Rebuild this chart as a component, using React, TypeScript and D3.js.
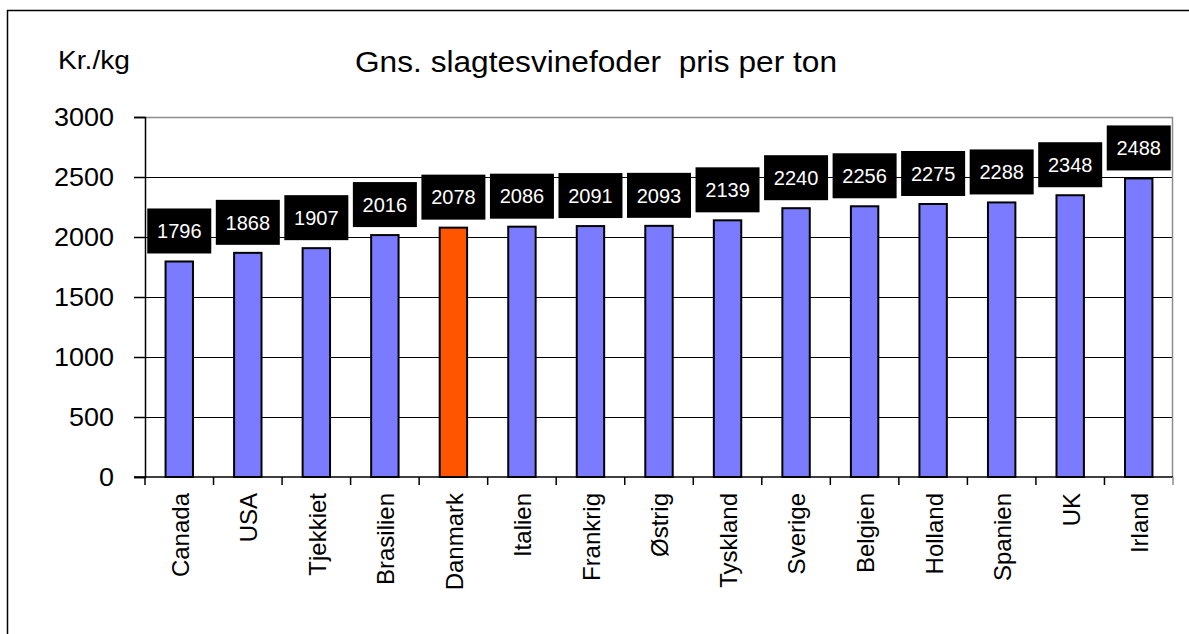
import React, { useEffect, useRef } from 'react';
import * as d3 from 'd3';

const lande = ['Canada', 'USA', 'Tjekkiet', 'Brasilien', 'Danmark', 'Italien', 'Frankrig', 'Østrig', 'Tyskland', 'Sverige', 'Belgien', 'Holland', 'Spanien', 'UK', 'Irland'];
const priser = [1796, 1868, 1907, 2016, 2078, 2086, 2091, 2093, 2139, 2240, 2256, 2275, 2288, 2348, 2488];
const yTicks = [0, 500, 1000, 1500, 2000, 2500, 3000];
const fremhaevet = 'Danmark';

const FONT = "'Liberation Sans', Arial, sans-serif";

function App() {
  const canvas = useRef<SVGSVGElement>(null);

  useEffect(() => {
    const width = 1189;
    const height = 634;
    const margin = { top: 117, left: 145, bottom: 157, right: 16 };
    const iwidth = width - margin.left - margin.right;
    const iheight = height - margin.top - margin.bottom;

    const svg = d3.select(canvas.current).attr('width', width).attr('height', height);
    svg.selectAll('*').remove();

    // ydre ramme (kun top + venstre ses)
    svg.append('path')
      .attr('d', `M7.5,${height} V10.5 H${width}`)
      .attr('fill', 'none')
      .attr('stroke', '#000')
      .attr('stroke-width', 1.5);

    svg.append('text')
      .attr('x', 58).attr('y', 69)
      .attr('font-family', FONT).attr('font-size', 25)
      .attr('textLength', 72).attr('lengthAdjust', 'spacingAndGlyphs')
      .text('Kr./kg');

    svg.append('text')
      .attr('x', 355).attr('y', 72)
      .attr('font-family', FONT).attr('font-size', 30)
      .attr('textLength', 482).attr('lengthAdjust', 'spacingAndGlyphs')
      .style('white-space', 'pre')
      .text('Gns. slagtesvinefoder  pris per ton');

    const g = svg.append('g').attr('transform', `translate(${margin.left},${margin.top})`);

    const x = d3.scaleBand().domain(lande).range([0, iwidth]).paddingInner(0.6).paddingOuter(0.3);
    const xb = d3.scaleBand().domain(lande).range([0, iwidth]);
    const y = d3.scaleLinear().domain([0, 3000]).range([iheight, 0]);

    // gitter
    g.selectAll('line.grid')
      .data(yTicks.filter(d => d > 0 && d < 3000))
      .enter().append('line')
      .attr('class', 'grid')
      .attr('x1', 0).attr('x2', iwidth)
      .attr('y1', d => Math.round(y(d)) + 0.5).attr('y2', d => Math.round(y(d)) + 0.5)
      .attr('stroke', '#000').attr('stroke-width', 1);

    // plotområdets top/højre kant
    g.append('path')
      .attr('d', `M0,0.5 H${iwidth - 0.5} V${iheight}`)
      .attr('fill', 'none')
      .attr('stroke', '#8c8c8c')
      .attr('stroke-width', 1.5);

    // søjler
    g.selectAll('rect.bar')
      .data(priser)
      .enter().append('rect')
      .attr('class', 'bar')
      .attr('x', (d, i) => x(lande[i])!)
      .attr('y', d => y(d))
      .attr('width', x.bandwidth())
      .attr('height', d => iheight - y(d))
      .attr('fill', (d, i) => lande[i] === fremhaevet ? '#ff5500' : '#7b7bff')
      .attr('stroke', '#000')
      .attr('stroke-width', 2);

    // værdi-etiketter
    const boxW = 64;
    const boxH = 45;
    const lbl = g.selectAll('g.lbl')
      .data(priser)
      .enter().append('g')
      .attr('class', 'lbl')
      .attr('transform', (d, i) => `translate(${x(lande[i])! + x.bandwidth() / 2},${y(d) - 8})`);
    lbl.append('rect')
      .attr('x', -boxW / 2).attr('y', -boxH)
      .attr('width', boxW).attr('height', boxH)
      .attr('fill', '#000');
    lbl.append('text')
      .attr('y', -boxH / 2)
      .attr('dy', '0.36em')
      .attr('text-anchor', 'middle')
      .attr('fill', '#fff')
      .attr('font-family', FONT).attr('font-size', 20)
      .text(d => d);

    // y-akse
    const yAxis = g.append('g')
      .call(d3.axisLeft(y).tickValues(yTicks).tickSize(11).tickPadding(20).tickFormat(d3.format('d')));
    yAxis.select('.domain').attr('stroke', '#000').attr('stroke-width', 1.5);
    yAxis.selectAll('.tick line').attr('stroke', '#000').attr('stroke-width', 1.5);
    yAxis.selectAll('.tick text')
      .attr('font-family', FONT).attr('font-size', 26).attr('fill', '#000')
      .attr('textLength', 60).attr('lengthAdjust', 'spacingAndGlyphs');
    yAxis.selectAll('.tick text').filter(d => (d as number) < 1000).attr('textLength', 45);
    yAxis.selectAll('.tick text').filter(d => (d as number) === 0).attr('textLength', 15);

    // x-akse
    const xAxis = g.append('g').attr('transform', `translate(0,${iheight})`);
    xAxis.append('line')
      .attr('x1', -11).attr('x2', iwidth)
      .attr('y1', 0).attr('y2', 0)
      .attr('stroke', '#000').attr('stroke-width', 1.5);
    xAxis.selectAll('line.xt')
      .data(lande.concat(['__end']))
      .enter().append('line')
      .attr('class', 'xt')
      .attr('x1', (d, i) => i * xb.bandwidth()).attr('x2', (d, i) => i * xb.bandwidth())
      .attr('y1', 0).attr('y2', 8)
      .attr('stroke', (d, i) => i === lande.length ? '#8c8c8c' : '#000')
      .attr('stroke-width', 1.5);
    xAxis.selectAll('text')
      .data(lande)
      .enter().append('text')
      .attr('transform', d => `translate(${xb(d)! + xb.bandwidth() / 2 + 1},16) rotate(-90)`)
      .attr('text-anchor', 'end')
      .attr('dy', '0.35em')
      .attr('font-family', FONT).attr('font-size', 24)
      .text(d => d);
  });

  return (
    <div id="canvas" style={{ position: 'absolute', left: 0, top: 0 }}>
      <svg ref={canvas} style={{ display: 'block' }}></svg>
    </div>
  );
}

export default App;
